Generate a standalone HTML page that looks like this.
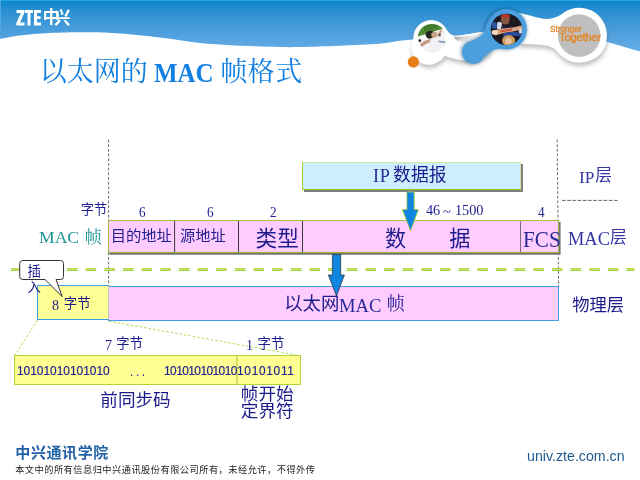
<!DOCTYPE html>
<html lang="zh-CN"><head><meta charset="utf-8"><title>以太网的 MAC 帧格式</title>
<style>
html,body{margin:0;padding:0;background:#fff;}
body{width:640px;height:480px;position:relative;overflow:hidden;font-family:"Liberation Sans",sans-serif;}
svg{position:absolute;left:0;top:0;}
.t{position:absolute;white-space:nowrap;margin:0;padding:0;}
#tx{position:absolute;left:0;top:0;width:640px;height:480px;overflow:hidden;will-change:transform;}
.h{position:absolute;white-space:nowrap;line-height:1;color:#1c1c8c;font-family:"Liberation Sans","Noto Sans CJK SC",sans-serif;}
.hs{font-family:"Liberation Serif","Noto Serif CJK SC",serif;}
</style></head><body>
<svg width="640" height="480" viewBox="0 0 640 480">
<defs>
<linearGradient id="hg" gradientUnits="userSpaceOnUse" x1="0" y1="0" x2="0" y2="48">
<stop offset="0.03" stop-color="#0a87cc"/><stop offset="0.2" stop-color="#268fd1"/><stop offset="0.45" stop-color="#3d97d6"/><stop offset="0.7" stop-color="#4f9fdd"/><stop offset="1" stop-color="#62abe5"/>
</linearGradient>
<filter id="bl3" x="-30%" y="-30%" width="160%" height="160%"><feGaussianBlur stdDeviation="2.2"/></filter>
<filter id="bl2" x="-30%" y="-30%" width="160%" height="160%"><feGaussianBlur stdDeviation="1.5"/></filter>
<filter id="bl05" x="-10%" y="-10%" width="120%" height="120%"><feGaussianBlur stdDeviation="0.6"/></filter>
<filter id="bl03" x="-10%" y="-10%" width="120%" height="120%"><feGaussianBlur stdDeviation="0.3"/></filter>
<filter id="bl1" x="-30%" y="-30%" width="160%" height="160%"><feGaussianBlur stdDeviation="0.8"/></filter>
<clipPath id="c1"><circle cx="432" cy="38.2" r="14.3"/></clipPath>
<clipPath id="c2"><circle cx="506.5" cy="29.4" r="15.75"/></clipPath>
</defs>
<rect x="0" y="0" width="640" height="70" fill="url(#hg)"/>
<rect x="0" y="0" width="640" height="1" fill="#2da0e0"/>
<rect x="0" y="0" width="1" height="45" fill="#4aa8e0"/>
<path d="M-2.0 39.3 C1.7 38.7 11.3 36.5 20.0 35.5 C28.7 34.5 38.3 33.5 50.0 33.0 C61.7 32.5 78.3 32.2 90.0 32.3 C101.7 32.4 108.3 32.6 120.0 33.5 C131.7 34.4 146.7 35.9 160.0 37.5 C173.3 39.1 186.7 41.6 200.0 43.0 C213.3 44.4 226.7 45.0 240.0 45.7 C253.3 46.4 270.0 46.8 280.0 47.0 C290.0 47.2 290.0 47.2 300.0 47.0 C310.0 46.8 326.7 46.2 340.0 45.7 C353.3 45.2 370.0 44.5 380.0 43.7 C390.0 42.9 393.3 41.6 400.0 40.8 C406.7 40.0 413.3 39.5 420.0 39.0 C426.7 38.5 433.8 38.5 440.0 38.0 C446.2 37.5 450.0 36.8 457.0 35.8 C464.0 34.8 474.8 33.0 482.0 32.0 C489.2 31.0 487.0 30.3 500.0 30.0 C513.0 29.7 542.2 28.0 560.0 30.0 C577.8 32.0 596.2 39.1 607.0 42.0 C617.8 44.9 619.2 45.5 625.0 47.2 C630.8 48.9 639.2 51.2 642.0 52.0 L642 75 L-2 75 Z" fill="#fff" />
<g filter="url(#bl3)" opacity="0.42"><path d="M413.5 38 A17.5 17.5 0 0 1 446.5 29.5 C449 33.6 452.5 36 457 35.8 C466 35 474 33.2 483 31.8 L492 50 C482 61 472 62 463 60.6 C456 59.5 450 57.8 444.5 55.8 A17.5 17.5 0 0 1 413.5 38 Z" fill="#666" transform="translate(0.6,3.2)"/><path d="M515 12.5 C528 13.5 538 19.3 548 18.9 C552 18.6 556.5 17.5 560.5 15.0 A27.6 27.6 0 0 1 606.7 38.1 C606.5 49 600 57.5 589.6 60.8 A27.6 27.6 0 0 1 556.4 50.6 C553.5 47.2 549 45.8 544 45.2 C536 44.6 528 44 520 44 Z" fill="#666" transform="translate(0.6,3.2)"/></g>
<path d="M413.5 38 A17.5 17.5 0 0 1 446.5 29.5 C449 33.6 452.5 36 457 35.8 C466 35 474 33.2 483 31.8 L492 50 C482 61 472 62 463 60.6 C456 59.5 450 57.8 444.5 55.8 A17.5 17.5 0 0 1 413.5 38 Z" fill="#fff" />
<path d="M515 12.5 C528 13.5 538 19.3 548 18.9 C552 18.6 556.5 17.5 560.5 15.0 A27.6 27.6 0 0 1 606.7 38.1 C606.5 49 600 57.5 589.6 60.8 A27.6 27.6 0 0 1 556.4 50.6 C553.5 47.2 549 45.8 544 45.2 C536 44.6 528 44 520 44 Z" fill="#fff" />
<defs><linearGradient id="cg" gradientUnits="userSpaceOnUse" x1="462" y1="35" x2="466" y2="42"><stop offset="0" stop-color="#b2b2b2"/><stop offset="0.55" stop-color="#dedede"/><stop offset="1" stop-color="#fbfbfb"/></linearGradient></defs>
<path d="M453.5 36.6 C460 37.2 470 36.2 476 35 C480 34.2 483 33.2 486 32.2 L486 36 C482 40 472 42.6 462 42 C457 41.4 454.5 39.6 453.5 36.6Z" fill="url(#cg)" filter="url(#bl03)"/>
<path d="M488.4 20.8 A20.2 20.2 0 1 1 501.5 48.8 C496 48.6 491 50.5 488 54 C486.5 55.6 485 56.6 483.8 57.3 A11.5 11.5 0 1 1 467.6 42.4 C472 40.8 478 38.8 482 35 C485.5 31.5 485.2 25 488.4 20.8 Z" fill="#0a3c68" opacity="0.62" filter="url(#bl3)" transform="translate(-0.6,-0.3)"/>
<path d="M488.4 20.8 A20.2 20.2 0 1 1 501.5 48.8 C496 48.6 491 50.5 488 54 C486.5 55.6 485 56.6 483.8 57.3 A11.5 11.5 0 1 1 467.6 42.4 C472 40.8 478 38.8 482 35 C485.5 31.5 485.2 25 488.4 20.8 Z" fill="#4a9fdc" />
<g clip-path="url(#c1)"><rect x="417" y="23" width="31" height="31" fill="#f4f4f6"/><g filter="url(#bl05)"><path d="M416 22H449V27L442.8 28.8L418 36.6L416 38Z" fill="#4f8a34"/><path d="M424 24L440 24L436 28L424 31Z" fill="#3f7a2c"/><path d="M418 37L426 34.5L428 39L420 42Z" fill="#fafafa"/><ellipse cx="429.9" cy="34.6" rx="4.3" ry="3.9" fill="#2b2724" transform="rotate(-20 429.9 34.6)"/><ellipse cx="434.4" cy="34.8" rx="3.2" ry="2.9" fill="#c9a084" transform="rotate(-20 434.4 34.8)"/><path d="M437.2 34.5L440.6 29.4L442.6 30.4L440.2 35.6Z" fill="#cfa98e"/><ellipse cx="439.6" cy="35" rx="1.2" ry="1.5" fill="#5a4a42"/><path d="M420 44.6C422 41.6 426 40.2 430.5 39L432 41.6C428 43 424.5 44.6 422 47Z" fill="#c29a80"/><ellipse cx="419.8" cy="40.6" rx="1.3" ry="1.7" fill="#2a2a2a"/><path d="M430 40.5C433 38 438 37 444 38L447 44L440 52L428 52Z" fill="#f1f1f4"/><rect x="438.5" y="41" width="7" height="1.7" fill="#8c9abb" transform="rotate(8 442 42)"/></g></g>
<g clip-path="url(#c2)"><rect x="490" y="13" width="34" height="34" fill="#1b1820"/><g filter="url(#bl05)"><ellipse cx="494.4" cy="25.4" rx="2.6" ry="3.4" fill="#2a56a4"/><ellipse cx="505.3" cy="19.6" rx="4.4" ry="5" fill="#87563f"/><path d="M500.6 16.2C502.5 13.2 508.5 13.2 510.4 16.2L509.6 17.4H501.2Z" fill="#b8342c"/><path d="M497.2 22.5C499 21 501.5 21.6 502 24L501 29L497 29Z" fill="#d5d9e6"/><path d="M502 25.5C505 27.5 509 27.5 512 25.5L514 29L502 31Z" fill="#2a2a44"/><path d="M492.5 31C498 28.6 506 28.8 513 27.4L522.5 25.2V29.4L513 31.4C507 32.4 500 34 495.5 35.4Z" fill="#dba582"/><path d="M500 30.4L512 28.6L512 30.6L501 32.4Z" fill="#d2553a"/><ellipse cx="494.8" cy="32.4" rx="3.2" ry="2.3" fill="#f2d6c0"/><path d="M503.5 33.6C508 31.4 516 31.6 521.5 33.4L521 36.6C515 35.4 508 35.6 503 37Z" fill="#2b4b9a"/><ellipse cx="508.6" cy="40.6" rx="6.6" ry="5.6" fill="#c9995a"/><ellipse cx="508.4" cy="41" rx="3.4" ry="3.6" fill="#e6c29c"/><ellipse cx="520.6" cy="31" rx="2" ry="2.6" fill="#d9d6dc"/></g></g>
<circle cx="579.2" cy="35.6" r="21.3" fill="#bfbfbf"/>
<circle cx="413.4" cy="62" r="5.7" fill="#e8801a"/>
<path d="M16.5 10H24.5V12.6L20 22.6H24.5V25.5H16.3V22.9L20.8 12.9H16.5Z M25 10H33V12.9H30.5V25.5H27.5V12.9H25Z M34 10H41V12.9H37V16.3H40.6V19.1H37V22.6H41V25.5H34Z" fill="#fff" />
<line x1="108.6" y1="139.5" x2="108.6" y2="286" stroke="#6a6a6a" stroke-width="1" stroke-dasharray="2.8 1.9"/>
<line x1="557.2" y1="139.5" x2="558.6" y2="286" stroke="#6a6a6a" stroke-width="1" stroke-dasharray="2.8 1.9"/>
<line x1="562" y1="200.4" x2="619" y2="200.4" stroke="#666" stroke-width="1" stroke-dasharray="3.7 1.5"/>
<g stroke-dasharray="10.5 8.15"><line x1="11.1" y1="269.6" x2="634.5" y2="269.6" stroke="#d2ea96" stroke-width="2.4"/><line x1="11.1" y1="268.75" x2="634.5" y2="268.75" stroke="#a4d22c" stroke-width="1.1"/><line x1="11.1" y1="270.45" x2="634.5" y2="270.45" stroke="#a4d22c" stroke-width="1.1"/></g>
<rect x="304" y="164" width="219" height="28" fill="#808080"/>
<rect x="302" y="162" width="219" height="28" fill="#cdeeff"/>
<rect x="302" y="162" width="219" height="1" fill="#d2e8a4"/>
<rect x="520" y="162" width="1" height="28" fill="#cfe6ac"/>
<rect x="302" y="162" width="1" height="28" fill="#9acd32"/>
<rect x="302" y="189" width="219" height="1" fill="#96c81e"/>
<rect x="109.6" y="221.8" width="451" height="33" fill="#777"/>
<rect x="108" y="220" width="451" height="33" fill="#ffccff"/>
<rect x="108" y="220" width="451" height="1" fill="#a3c040"/>
<rect x="558" y="220" width="1" height="33" fill="#9ab536"/>
<rect x="108" y="220" width="1" height="33" fill="#9fbc3c"/>
<rect x="108" y="252" width="451" height="1" fill="#9ab536"/>
<line x1="174.6" y1="221" x2="174.6" y2="252" stroke="#3a3a3a" stroke-width="1"/>
<line x1="238.5" y1="221" x2="238.5" y2="252" stroke="#3a3a3a" stroke-width="1"/>
<line x1="302.5" y1="221" x2="302.5" y2="252" stroke="#3a3a3a" stroke-width="1"/>
<line x1="520.5" y1="221" x2="520.5" y2="252" stroke="#7d6a80" stroke-width="1"/>
<rect x="108.5" y="286.5" width="450" height="34" fill="#ffccff" stroke="#3f9eea" stroke-width="1"/>
<rect x="37.5" y="285.5" width="71" height="34" fill="#ffff96" stroke="#3f9eea" stroke-width="1"/>
<line x1="108.5" y1="286" x2="108.5" y2="319" stroke="#b4c8b0" stroke-width="1"/>
<path d="M406.9 192H414.2V209.5H418.5L410.5 230.9L402.3 209.5H406.9Z" fill="#1085e0" stroke="#b4d038" stroke-width="0.8"/>
<path d="M332.4 254.4H340.7V275H344.4L336.5 296L328.3 275H332.4Z" fill="#1085e0" stroke="#2a2a2a" stroke-width="0.7"/>
<path d="M22.7 260.5H60.5Q63.5 260.5 63.5 263.5V276.5Q63.5 279.5 60.5 279.5H56L62.2 296.6L45 279.5H22.7Q19.7 279.5 19.7 276.5V263.5Q19.7 260.5 22.7 260.5Z" fill="#fff" stroke="#333" stroke-width="1"/>
<line x1="37.5" y1="320" x2="15" y2="355" stroke="#b9d955" stroke-width="1" stroke-dasharray="2.5 2"/>
<line x1="108.7" y1="321.2" x2="300" y2="355.6" stroke="#b9d955" stroke-width="1" stroke-dasharray="2.5 2"/>
<rect x="14.5" y="355.5" width="286" height="29" fill="#ffff94" stroke="#aed438" stroke-width="1"/>
<line x1="237" y1="356" x2="237" y2="384" stroke="#a5c233" stroke-width="1"/>
</svg>
<div id="tx">
<div class="t" style="left:550.00px;top:24.77px;font:normal normal 33.2px/1 'Liberation Sans',sans-serif;color:#e2872a;transform:scale(0.25,0.25);transform-origin:0 0;letter-spacing:-0.2px;-webkit-text-stroke:1.2px #e2872a;">Stronger</div>
<div class="t" style="left:558.60px;top:32.27px;font:normal normal 40.8px/1 'Liberation Sans',sans-serif;color:#e2872a;transform:scale(0.2775,0.25);transform-origin:0 0;letter-spacing:-1px;-webkit-text-stroke:1.6px #e2872a;">Together</div>
<div class="t" style="left:153.80px;top:59.39px;font:normal bold 108px/1 'Liberation Serif',serif;color:#1180e2;transform:scale(0.23125,0.25);transform-origin:0 0;">MAC</div>
<div class="t" style="left:372.90px;top:167.36px;font:normal normal 72.8px/1 'Liberation Serif',serif;color:#2a2a96;transform:scale(0.25,0.25);transform-origin:0 0;letter-spacing:3.2px;">IP</div>
<div class="t" style="left:138.60px;top:204.07px;font:normal normal 60.8px/1 'Liberation Serif',serif;color:#1c1c8c;transform:scale(0.2175,0.25);transform-origin:0 0;">6</div>
<div class="t" style="left:207.20px;top:204.07px;font:normal normal 60.8px/1 'Liberation Serif',serif;color:#1c1c8c;transform:scale(0.2175,0.25);transform-origin:0 0;">6</div>
<div class="t" style="left:270.20px;top:204.07px;font:normal normal 60.8px/1 'Liberation Serif',serif;color:#1c1c8c;transform:scale(0.2175,0.25);transform-origin:0 0;">2</div>
<div class="t" style="left:537.80px;top:204.07px;font:normal normal 60.8px/1 'Liberation Serif',serif;color:#1c1c8c;transform:scale(0.2175,0.25);transform-origin:0 0;">4</div>
<div class="t" style="left:425.60px;top:202.00px;font:normal normal 61.6px/1 'Liberation Serif',serif;color:#1c1c8c;transform:scale(0.23125,0.25);transform-origin:0 0;">46</div>
<div class="t" style="left:443.40px;top:203.70px;font:normal normal 61.6px/1 'Liberation Serif',serif;color:#1c1c8c;transform:scale(0.23125,0.25);transform-origin:0 0;">~</div>
<div class="t" style="left:455.20px;top:202.00px;font:normal normal 61.6px/1 'Liberation Serif',serif;color:#1c1c8c;transform:scale(0.23125,0.25);transform-origin:0 0;">1500</div>
<div class="t" style="left:39.00px;top:228.26px;font:normal normal 70.4px/1 'Liberation Serif',serif;color:#1e9696;transform:scale(0.25,0.25);transform-origin:0 0;">MAC</div>
<div class="t" style="left:522.80px;top:228.21px;font:normal normal 88.8px/1 'Liberation Serif',serif;color:#2a2a96;transform:scale(0.23875,0.25);transform-origin:0 0;">FCS</div>
<div class="t" style="left:578.80px;top:168.41px;font:normal normal 69.2px/1 'Liberation Serif',serif;color:#3535a8;transform:scale(0.25,0.25);transform-origin:0 0;">IP</div>
<div class="t" style="left:568.30px;top:229.99px;font:normal normal 73.6px/1 'Liberation Serif',serif;color:#3535a8;transform:scale(0.25,0.25);transform-origin:0 0;">MAC</div>
<div class="t" style="left:52.40px;top:297.88px;font:normal normal 56px/1 'Liberation Serif',serif;color:#1c1c8c;transform:scale(0.25,0.25);transform-origin:0 0;">8</div>
<div class="t" style="left:338.90px;top:295.62px;font:normal normal 74.4px/1 'Liberation Serif',serif;color:#2a2a96;transform:scale(0.25,0.25);transform-origin:0 0;">MAC</div>
<div class="t" style="left:105.30px;top:338.07px;font:normal normal 56px/1 'Liberation Serif',serif;color:#1c1c8c;transform:scale(0.25,0.25);transform-origin:0 0;">7</div>
<div class="t" style="left:246.20px;top:338.07px;font:normal normal 56px/1 'Liberation Serif',serif;color:#1c1c8c;transform:scale(0.25,0.25);transform-origin:0 0;">1</div>
<div class="t" style="left:17.10px;top:365.33px;font:normal normal 47.6px/1 'Liberation Sans',sans-serif;color:#24248f;transform:scale(0.25,0.25);transform-origin:0 0;-webkit-text-stroke:0.8px #24248f;">10101010101010</div>
<div class="t" style="left:129.60px;top:366.44px;font:normal normal 48px/1 'Liberation Sans',sans-serif;color:#1c1c8c;transform:scale(0.25,0.25);transform-origin:0 0;letter-spacing:10.4px;">...</div>
<div class="t" style="left:163.60px;top:365.33px;font:normal normal 47.6px/1 'Liberation Sans',sans-serif;color:#24248f;transform:scale(0.25,0.25);transform-origin:0 0;letter-spacing:-2.2px;-webkit-text-stroke:0.8px #24248f;">101010101010</div>
<div class="t" style="left:236.90px;top:365.33px;font:normal normal 47.6px/1 'Liberation Sans',sans-serif;color:#24248f;transform:scale(0.25,0.25);transform-origin:0 0;letter-spacing:2.8px;-webkit-text-stroke:0.8px #24248f;">10101011</div>
<div class="t" style="left:527.00px;top:449.28px;font:normal normal 56.8px/1 'Liberation Sans',sans-serif;color:#1f5a90;transform:scale(0.25,0.25);transform-origin:0 0;">univ.zte.com.cn</div>
</div>
<span class="h" style="left:42.4px;top:8.9px;font-size:17.5px;color:#fff;font-weight:bold">中</span>
<span class="h" style="left:54px;top:10.2px;font-size:16.5px;color:#fff;font-weight:bold">兴</span>
<span class="h hs" style="left:39.8px;top:58.7px;font-size:27px;color:#1180e2">以太网的</span>
<span class="h hs" style="left:220.6px;top:58.7px;font-size:27px;color:#1180e2">帧格</span>
<span class="h hs" style="left:275.2px;top:58.7px;font-size:27px;color:#1180e2">式</span>
<span class="h" style="left:393.1px;top:167.1px;font-size:17.8px">数据报</span>
<span class="h" style="left:80.8px;top:202.8px;font-size:13.2px">字节</span>
<span class="h hs" style="left:84.8px;top:228.6px;font-size:17px;color:#1e9696">帧</span>
<span class="h" style="left:110.7px;top:227.8px;font-size:15.3px">目的地址</span>
<span class="h" style="left:180px;top:227.8px;font-size:15.3px">源地址</span>
<span class="h" style="left:255.6px;top:227.9px;font-size:21.6px">类型</span>
<span class="h" style="left:385px;top:228.1px;font-size:21.2px">数</span>
<span class="h" style="left:449.2px;top:228.1px;font-size:21.2px">据</span>
<span class="h" style="left:595.2px;top:167.9px;font-size:16.8px;color:#3535a8">层</span>
<span class="h" style="left:610px;top:229.9px;font-size:16.8px;color:#3535a8">层</span>
<span class="h" style="left:572.2px;top:296.6px;font-size:17.3px">物理层</span>
<span class="h" style="left:63.8px;top:297px;font-size:13.4px">字节</span>
<span class="h" style="left:284.2px;top:295.2px;font-size:18.4px">以太网</span>
<span class="h hs" style="left:386.8px;top:295.4px;font-size:18px">帧</span>
<span class="h" style="left:27.6px;top:264.7px;font-size:13.4px">插</span>
<span class="h" style="left:27.6px;top:280.8px;font-size:13.4px">入</span>
<span class="h" style="left:116.2px;top:337px;font-size:13.4px">字节</span>
<span class="h" style="left:257.6px;top:337px;font-size:13.4px">字节</span>
<span class="h" style="left:100.3px;top:392.3px;font-size:17.6px">前同步码</span>
<span class="h" style="left:240.8px;top:385.8px;font-size:17.6px">帧开始</span>
<span class="h" style="left:240.8px;top:402.8px;font-size:17.6px">定界符</span>
<span class="h" style="left:15.3px;top:444.8px;font-size:15px;color:#1f60a6;font-weight:bold;letter-spacing:0.6px">中兴通讯学院</span>
<span class="h" style="left:15.2px;top:465.6px;font-size:9.2px;color:#1a1a1a;letter-spacing:0.5px">本文中的所有信息归中兴通讯股份有限公司所有，未经允许，不得外传</span>
</body></html>
